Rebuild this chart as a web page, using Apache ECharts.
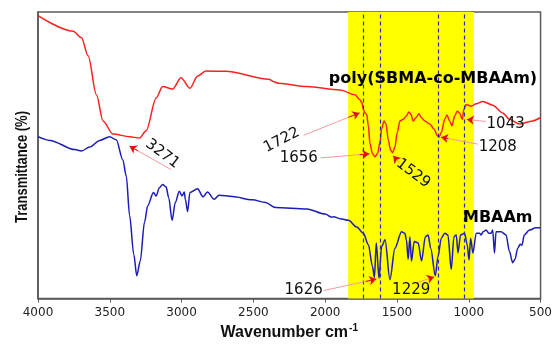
<!DOCTYPE html>
<html><head><meta charset="utf-8">
<script src="https://cdn.jsdelivr.net/npm/echarts@6/dist/echarts.min.js"></script>
<style>html,body{margin:0;padding:0;background:#fff}#c{width:555px;height:346px}</style>
</head><body><div id="c"></div>
<script>
// ---- data (wavenumber cm-1, relative transmittance) ----
const redWn = [4000,3755,3697,3651,3593,3547,3478,3362,3293,3247,3177,3132,3062,3004,2942,2889,2831,2692,2392,2358,2323,2127,1896,1792,1760,1745,1734,1722,1711,1699,1688,1671,1653,1635,1618,1607,1590,1576,1560,1544,1531,1514,1498,1479,1456,1434,1417,1403,1387,1368,1347,1329,1306,1271,1242,1219,1207,1191,1167,1152,1133,1117,1098,1080,1064,1045,1034,1018,983,948,902,833,764,717,648,556,503];
const redT  = [98.7,93.3,91.0,84.7,71.1,62.0,57.4,56.5,56.0,58.6,70.0,74.0,73.1,77.1,73.4,77.6,79.4,79.3,76.5,75.7,75.1,74.0,72.8,71.1,69.5,68.5,66.0,64.8,64.3,60.3,54.0,50.6,49.5,50.6,54.6,59.2,62.0,60.9,55.2,51.8,50.9,52.9,58.0,62.0,62.6,63.7,65.1,64.3,62.0,63.1,64.5,63.1,62.0,60.9,59.2,56.9,56.3,58.0,62.6,64.1,62.0,60.3,63.7,65.4,64.8,62.6,66.0,67.7,67.1,68.0,68.8,67.5,64.8,62.6,60.9,62.0,63.1];

const blueWn = [4000,3917,3744,3697,3640,3570,3501,3455,3409,3385,3362,3333,3312,3288,3258,3236,3196,3177,3155,3132,3108,3090,3066,3044,3016,2997,2981,2974,2958,2942,2889,2850,2820,2773,2739,2646,2508,2415,2346,2127,2000,1955,1942,1896,1838,1780,1734,1699,1671,1657,1644,1625,1607,1583,1549,1514,1468,1445,1434,1422,1410,1399,1380,1352,1329,1302,1283,1265,1233,1214,1191,1167,1145,1122,1103,1087,1075,1057,1029,1011,998,987,971,948,925,914,900,879,860,845,833,821,810,775,740,717,694,678,659,641,630,613,578,533,503];
const blueT  = [56.5,55.2,52.0,51.5,52.9,55.2,56.5,55.4,48.4,42.7,29.0,15.4,8.0,13.1,26.7,32.4,37.0,35.8,38.7,39.8,39.0,35.3,27.3,33.5,37.5,35.8,37.2,34.7,30.4,37.0,38.3,35.5,37.2,34.7,36.1,35.6,34.5,33.5,31.8,31.3,29.5,28.4,28.6,27.9,27.3,25.0,22.8,18.8,11.4,7.4,19.4,7.1,18.2,20.5,6.6,17.6,23.3,22.8,20.5,13.7,21.6,13.1,19.9,19.4,13.1,21.6,22.2,17.6,8.0,14.8,21.1,22.8,22.2,10.2,21.6,22.2,15.9,22.2,22.8,18.8,13.5,21.1,15.9,22.8,22.8,22.2,23.3,23.9,22.8,22.8,23.9,15.9,23.3,23.3,22.2,16.5,12.5,13.7,17.6,19.0,18.6,22.2,23.9,24.7,24.7];

const bandRange = [1840, 965];
const dashedPeaks = [1734, 1618, 1209, 1034];

const peakLabels = ['3271','1722','1656','1529','1208','1043','1626','1229'];
const labelWn    = [3134, 2302, 2184, 1387, 798, 743, 2150, 1401];
const labelT     = [50.5, 55.3, 49.1, 43.7, 52.9, 60.8, 2.8, 2.8];
const labelRot   = [-37, 27, 0, -37, 0, 0, 0, 0];
const arrowFromWn = [3073, 2150, 2032, 1477, 937, 881, 2011, 1366];
const arrowFromT  = [45.0, 57.0, 49.1, 47.1, 53.9, 61.8, 2.8, 5.5];
const arrowToWn   = [3362, 1761, 1692, 1526, 1193, 1013, 1644, 1242];
const arrowToT    = [53.2, 64.8, 50.5, 49.8, 56.3, 62.5, 6.8, 7.5];

const seriesNames = ['poly(SBMA-co-MBAAm)', 'MBAAm'];
const nameWn = [1249, 798];
const nameT  = [76.8, 28.3];

// ---- build ----
const redData = redWn.map((w,i)=>[w, redT[i]]);
const blueData = blueWn.map((w,i)=>[w, blueT[i]]);

const annoData = peakLabels.map((t,i)=>({
  name:t, value:[labelWn[i], labelT[i]],
  label:{rotate:labelRot[i]}
})).concat(seriesNames.map((t,i)=>({
  name:t, value:[nameWn[i], nameT[i]],
  label:{fontFamily:'DejaVu Sans', fontWeight:'bold', fontSize:16, color:'#000'}
})));

const shafts = peakLabels.map((t,i)=>[
  {coord:[arrowFromWn[i], arrowFromT[i]]},
  {coord:[arrowToWn[i], arrowToT[i]]}
]);
const heads = peakLabels.map((t,i)=>{
  const f = 0.8;
  return [
    {coord:[arrowFromWn[i] + (arrowToWn[i]-arrowFromWn[i])*f, arrowFromT[i] + (arrowToT[i]-arrowFromT[i])*f]},
    {coord:[arrowToWn[i], arrowToT[i]]}
  ];
});

const chart = echarts.init(document.getElementById('c'), null, {renderer:'canvas'});
chart.setOption({
  animation:false,
  grid:{left:38, right:12, top:12, bottom:41, show:true, borderColor:'#595959', borderWidth:1.5},
  xAxis:{
    type:'value', inverse:true, min:500, max:4000, interval:500,
    axisLine:{lineStyle:{color:'#595959', width:1.5}},
    axisTick:{length:4, lineStyle:{color:'#595959'}},
    axisLabel:{margin:8, fontFamily:'DejaVu Sans', fontSize:12, color:'#222', showMinLabel:true, showMaxLabel:true,
      formatter:function(v){return String(v);}},
    splitLine:{show:false},
    name:'Wavenumber cm{sup|-1}', nameLocation:'middle', nameGap:21,
    nameTextStyle:{fontFamily:'Liberation Sans', fontWeight:'bold', fontSize:16, color:'#111',
      rich:{sup:{fontFamily:'Liberation Sans', fontWeight:'bold', fontSize:10, color:'#111', padding:[0,0,9,1]}}}
  },
  yAxis:{
    type:'value', min:0, max:100,
    axisLine:{show:true, lineStyle:{color:'#595959', width:1.5}},
    axisTick:{show:false}, axisLabel:{show:false}, splitLine:{show:false}
  },
  graphic:[{
    type:'text', x:22, y:167, rotation:Math.PI/2, scaleY:1.3,
    style:{text:'Transmittance (%)', font:'bold 13px "Liberation Sans"', fill:'#111', align:'center', verticalAlign:'middle'}
  }],
  series:[
    {
      type:'line', data:[], z:1, silent:true,
      markArea:{silent:true, itemStyle:{color:'#ffff00'}, data:[[{xAxis:bandRange[0]},{xAxis:bandRange[1]}]]},
      markLine:{silent:true, symbol:'none', label:{show:false},
        lineStyle:{color:'#2b2bb5', type:[4,3], width:1.2},
        data: dashedPeaks.map(v=>({xAxis:v}))}
    },
    {
      type:'line', name:'red', data:redData, showSymbol:false, z:3,
      smooth:0.3, smoothMonotone:'x',
      lineStyle:{color:'#ff1f1f', width:1.5}
    },
    {
      type:'line', name:'blue', data:blueData, showSymbol:false, z:3,
      smooth:0.3, smoothMonotone:'x',
      lineStyle:{color:'#1c1cb8', width:1.5}
    },
    {
      type:'scatter', data:annoData, symbolSize:0, z:5, silent:true,
      itemStyle:{opacity:1},
      label:{show:true, position:'inside', formatter:'{b}', fontFamily:'DejaVu Sans', fontSize:15, color:'#111',
        opacity:1, textBorderWidth:0},
      markLine:{silent:true, symbol:'none', label:{show:false}, lineStyle:{color:'#f59a9a', width:1, type:'solid'},
        data: shafts}
    },
    {
      type:'scatter', data:[], z:6, silent:true,
      markLine:{silent:true, symbol:['none','arrow'], symbolSize:7, label:{show:false},
        lineStyle:{color:'#e01010', width:1, type:'solid'}, data: heads}
    }
  ]
});
</script></body></html>
